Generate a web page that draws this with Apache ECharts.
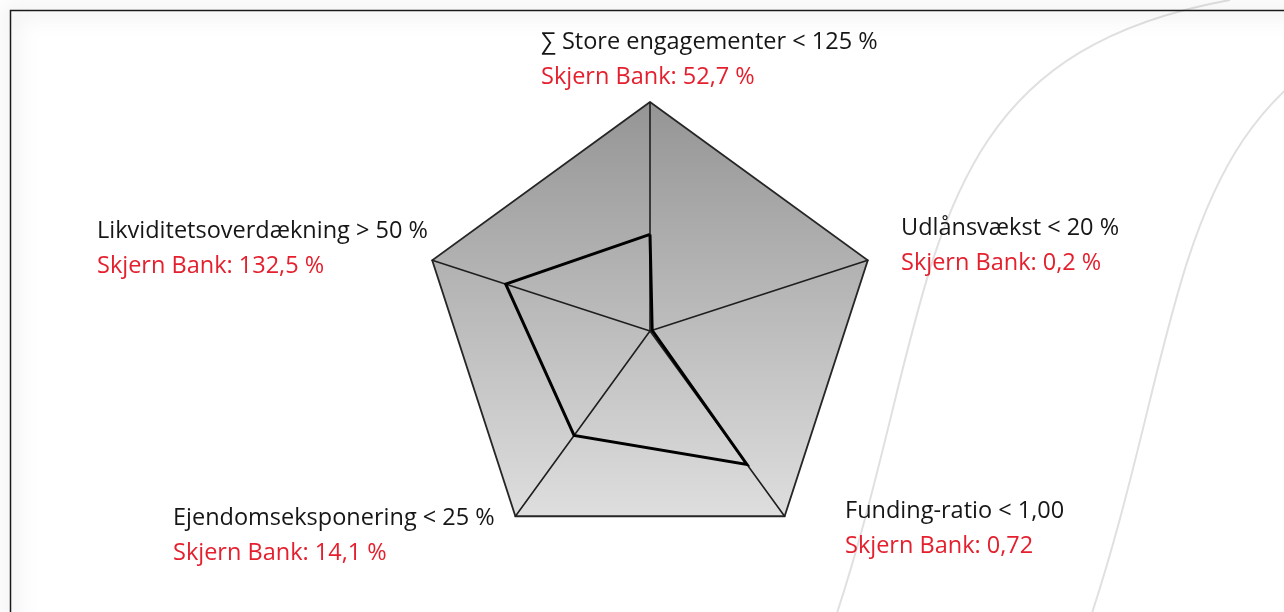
<!DOCTYPE html>
<html>
<head>
<meta charset="utf-8">
<script src="https://cdn.jsdelivr.net/npm/echarts@6/dist/echarts.min.js"></script>
<style>
    html, body {margin: 0; padding: 0; background: #fff;}
    #main {width: 1284px; height: 612px;}
</style>
</head>
<body>
<div id="main"></div>
<script>
    // indikatorer i radarens rækkefølge (top og så mod uret)
    const indicatorNames = [
        '∑ Store engagementer < 125 %',
        'Likviditetsoverdækning > 50 %',
        'Ejendomseksponering < 25 %',
        'Funding-ratio < 1,00',
        'Udlånsvækst < 20 %'
    ];
    const indicatorMax = [125, 200, 25, 1, 20];
    const bankValues = [52.7, 132.5, 14.1, 0.72, 0.2];
    const valueLabels = ['52,7 %', '132,5 %', '14,1 %', '0,72', '0,2 %'];

    // placering af tekstblokkene (venstre, top)
    const labelPos = [[541, 25], [97, 214], [173, 501], [845, 494], [901, 211]];

    const font = '"Open Sans", "Noto Sans", sans-serif';
    const myChart = echarts.init(document.getElementById('main'));

    const titles = indicatorNames.map((name, i) => ({
        text: `{n|${name}}\n{v|Skjern Bank: ${valueLabels[i]}}`,
        left: labelPos[i][0],
        top: labelPos[i][1],
        padding: 0,
        textStyle: {
            fontWeight: 'normal',
            rich: {
                n: {fontFamily: font, fontSize: 23.5, fontWeight: 'normal', color: '#161616', lineHeight: 35},
                v: {fontFamily: font, fontSize: 23.5, fontWeight: 'normal', color: '#e4202e', lineHeight: 35}
            }
        }
    }));

    // baggrundens bølgelinjer
    const wave = (dx) => ({
        type: 'bezierCurve', z: -10, silent: true,
        shape: {x1: 1230 + dx, y1: 0, cpx1: 900 + dx, cpy1: 60, cpx2: 945 + dx, cpy2: 300, x2: 828 + dx, y2: 640},
        style: {stroke: '#e0e0e0', lineWidth: 2, fill: null}
    });

    const option = {
        backgroundColor: '#fff',
        animation: false,
        title: titles,
        graphic: [
            wave(0),
            wave(255),
            {
                type: 'rect', z: -5, silent: true,
                shape: {x: 10.5, y: 10.5, width: 1400, height: 800},
                style: {
                    fill: null, stroke: '#1a1a1a', lineWidth: 1.5,
                    shadowBlur: 22, shadowColor: 'rgba(0,0,0,0.5)'
                }
            }
        ],
        radar: {
            center: [650, 331],
            radius: 229,
            shape: 'polygon',
            splitNumber: 1,
            indicator: indicatorNames.map((name, i) => ({name: name, max: indicatorMax[i], min: 0})),
            axisName: {show: false},
            axisLine: {lineStyle: {color: '#1e1e1e', width: 1.6}},
            axisTick: {show: false},
            axisLabel: {show: false},
            splitLine: {lineStyle: {color: '#262626', width: 1.8}},
            splitArea: {
                show: true,
                areaStyle: {
                    color: [new echarts.graphic.LinearGradient(0, 0, 0, 1, [
                        {offset: 0, color: '#959595'},
                        {offset: 1, color: '#dedede'}
                    ])]
                }
            }
        },
        series: [
            {
                name: 'Skjern Bank',
                type: 'radar',
                symbol: 'none',
                lineStyle: {color: '#000', width: 3, join: 'miter'},
                data: [{value: bankValues, name: 'Skjern Bank'}]
            }
        ]
    };

    option && myChart.setOption(option);
</script>
</body>
</html>
